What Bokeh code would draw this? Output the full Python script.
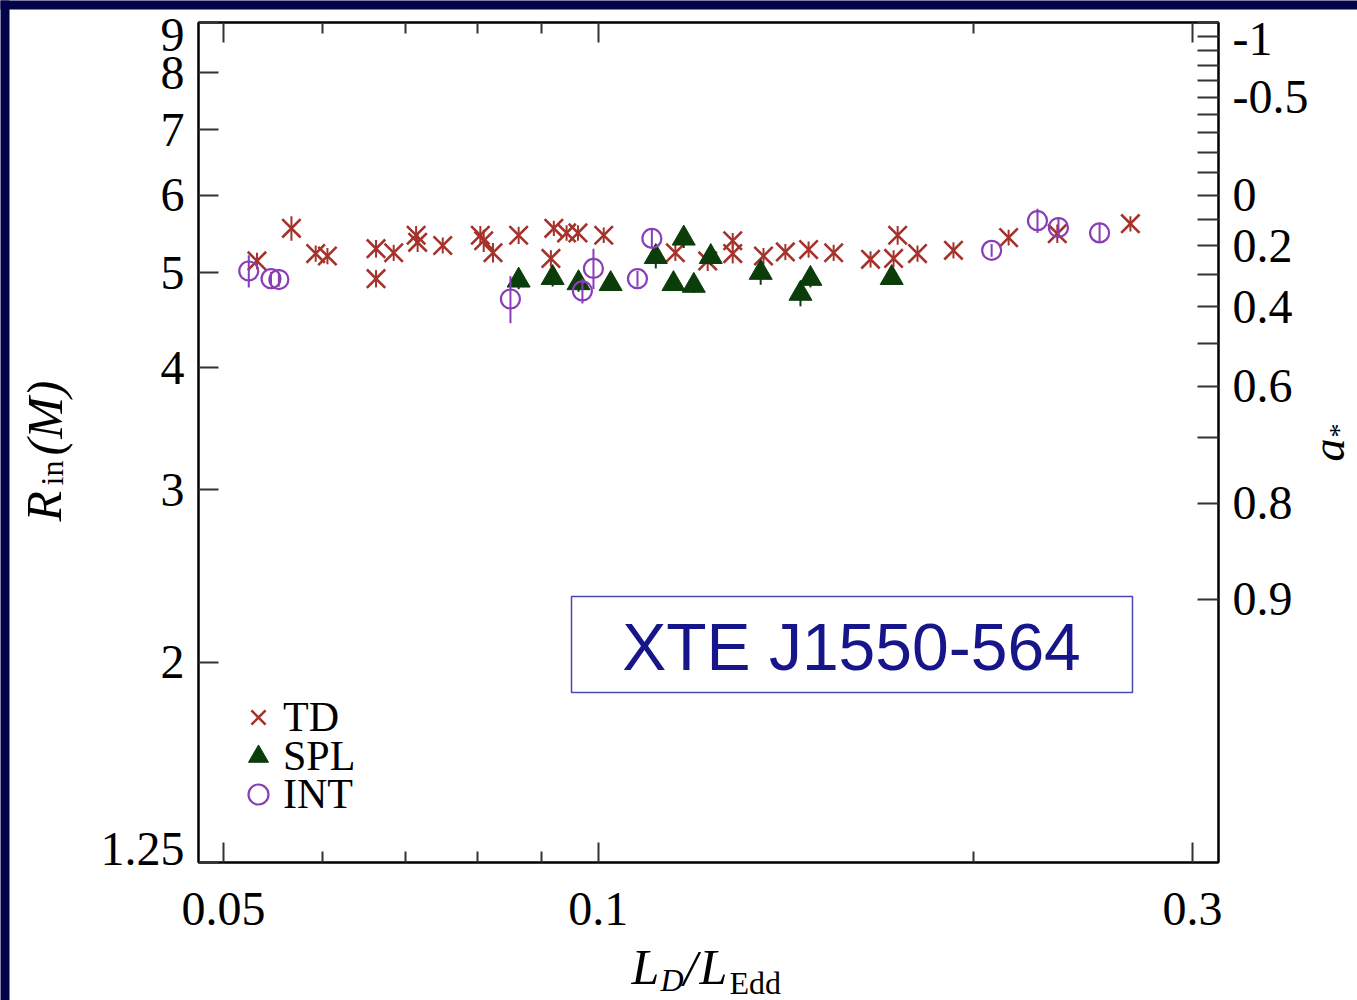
import numpy as np
from bokeh.plotting import figure
from bokeh.models import (LogAxis, FixedTicker, Range1d, Label, BoxAnnotation,
                          Legend, LegendItem)
from bokeh.core.properties import value
from bokeh.embed import file_html
from bokeh.resources import INLINE

# ---------------- data ----------------
td_x = [0.0532, 0.0567, 0.0593, 0.0606, 0.0663, 0.0663, 0.0685, 0.0714, 0.0716,
        0.0750, 0.0804, 0.0809, 0.0823, 0.0863, 0.0916, 0.0921, 0.0943, 0.0963,
        0.1010, 0.1153, 0.1224, 0.1282, 0.1282, 0.1357, 0.1413, 0.1475, 0.1545,
        0.1654, 0.1726, 0.1739, 0.1804, 0.1928, 0.2135, 0.2336, 0.2674]
td_y = [5.14, 5.55, 5.23, 5.20, 5.29, 4.93, 5.24, 5.46, 5.37, 5.33, 5.46, 5.39,
        5.24, 5.46, 5.17, 5.55, 5.49, 5.49, 5.46, 5.24, 5.14, 5.39, 5.23, 5.20,
        5.25, 5.28, 5.24, 5.16, 5.17, 5.46, 5.23, 5.27, 5.43, 5.48, 5.61]
td_err = [0.10, 0.16, 0.10, 0.10, 0.11, 0.10, 0.10, 0.12, 0.12, 0.10, 0.12, 0.14,
          0.12, 0.11, 0.10, 0.10, 0.10, 0.10, 0.10, 0.10, 0.12, 0.10, 0.12, 0.10,
          0.10, 0.10, 0.10, 0.10, 0.10, 0.12, 0.10, 0.10, 0.10, 0.12, 0.10]

spl_x = [0.0863, 0.0919, 0.0964, 0.1023, 0.1112, 0.1149, 0.1171, 0.1193, 0.1231,
         0.1350, 0.1453, 0.1480, 0.1720]
spl_y = [4.91, 4.94, 4.88, 4.87, 5.19, 4.87, 5.42, 4.85, 5.19, 5.00, 4.76, 4.93, 4.94]
spl_err = [0.10, 0.10, 0.10, 0.08, 0.14, 0.08, 0.12, 0.08, 0.10, 0.14, 0.14, 0.10, 0.08]

int_x = [0.0524, 0.0546, 0.0554, 0.0850, 0.0971, 0.0991, 0.1075, 0.1104, 0.2069,
         0.2252, 0.2341, 0.2526]
int_y = [5.02, 4.93, 4.92, 4.70, 4.79, 5.05, 4.93, 5.42, 5.27, 5.65, 5.56, 5.49]
int_err = [0.19, 0.08, 0.08, 0.26, 0.14, 0.24, 0.09, 0.12, 0.08, 0.16, 0.13, 0.12]

x_major = [0.05, 0.1, 0.3]
x_minor = [0.06, 0.07, 0.08, 0.09, 0.2]
x_labels = ["0.05", "0.1", "0.3"]
r_ticks = [1.25, 2, 3, 4, 5, 6, 7, 8, 9]
r_labels = ["1.25", "2", "3", "4", "5", "6", "7", "8", "9"]
spin_ticks = [-1.0, -0.9, -0.8, -0.7, -0.6, -0.5, -0.4, -0.3, -0.2, -0.1,
              0.0, 0.1, 0.2, 0.3, 0.4, 0.5, 0.6, 0.7, 0.8, 0.9]
spin_labels = {-1.0: "-1", -0.5: "-0.5", 0.0: "0", 0.2: "0.2", 0.4: "0.4",
               0.6: "0.6", 0.8: "0.8", 0.9: "0.9"}

TD_COLOR = "#a5322b"
SPL_COLOR = "#0b3d0b"
INT_COLOR = "#8a3db8"
SLIDE_BG = "#03034a"

X_RANGE = (0.04775, 0.3147)
Y_RANGE = (1.2495, 9.004)

W, H = 1357, 1000
# pixel geometry of the frame (for placing annotation text)
FL, FR, FT, FB = 198.0, 1218.0, 22.0, 862.0
LX0, LX1 = np.log10(X_RANGE[0]), np.log10(X_RANGE[1])
LY0, LY1 = np.log10(Y_RANGE[0]), np.log10(Y_RANGE[1])


def px2x(px):
    return float(10 ** (LX0 + (px - FL) / (FR - FL) * (LX1 - LX0)))


def py2y(py):
    return float(10 ** (LY1 - (py - FT) / (FB - FT) * (LY1 - LY0)))


def r_isco(a):
    z1 = 1 + (1 - a * a) ** (1 / 3) * ((1 + a) ** (1 / 3) + (1 - a) ** (1 / 3))
    z2 = np.sqrt(3 * a * a + z1 * z1)
    return float(3 + z2 - np.sign(a) * np.sqrt((3 - z1) * (3 + z1 + 2 * z2)))


p = figure(width=W, height=H, x_axis_type="log", y_axis_type="log",
           x_range=Range1d(*X_RANGE), y_range=Range1d(*Y_RANGE),
           output_backend="svg", toolbar_location=None,
           min_border_left=int(FL), min_border_right=int(W - FR),
           min_border_top=int(FT), min_border_bottom=int(H - FB))
p.grid.visible = False
p.outline_line_color = "black"
p.outline_line_width = 2
p.background_fill_color = "white"
p.border_fill_color = "white"

SERIF = "Liberation Serif"
TICK_FS = "48px"


def style_axis(ax, label_size=TICK_FS, standoff=14):
    ax.axis_line_color = "black"
    ax.axis_line_width = 2
    ax.major_tick_in = 20
    ax.major_tick_out = 0
    ax.minor_tick_in = 11
    ax.minor_tick_out = 0
    ax.major_tick_line_color = "#333333"
    ax.minor_tick_line_color = "#333333"
    ax.major_tick_line_width = 2
    ax.minor_tick_line_width = 2
    ax.major_label_text_font = SERIF
    ax.major_label_text_font_size = label_size
    ax.major_label_text_color = "black"
    ax.major_label_standoff = standoff


# bottom axis
xb = p.xaxis[0]
xb.ticker = FixedTicker(ticks=x_major, minor_ticks=x_minor)
xb.major_label_overrides = {v: t for v, t in zip(x_major, x_labels)}
style_axis(xb, standoff=30)

# top axis (ticks only)
xt = LogAxis(ticker=FixedTicker(ticks=x_major, minor_ticks=x_minor))
style_axis(xt, label_size="0px", standoff=0)
xt.major_label_overrides = {v: "" for v in x_major}
p.add_layout(xt, "above")

# left axis (edge labels drawn separately: in the original they sit inside the range)
EDGE_R = (1.25, 9)
yl = p.yaxis[0]
yl.ticker = FixedTicker(ticks=r_ticks, minor_ticks=[])
yl.major_label_overrides = {float(v): ("" if v in EDGE_R else t)
                            for v, t in zip(r_ticks, r_labels)}
style_axis(yl, standoff=14)

# right axis: black-hole spin a* at the ISCO radius
spin_r = [r_isco(a) for a in spin_ticks]
yr = LogAxis(ticker=FixedTicker(ticks=spin_r, minor_ticks=[]))
yr.major_label_overrides = {r: ("" if a == -1.0 else spin_labels.get(a, ""))
                            for a, r in zip(spin_ticks, spin_r)}
style_axis(yr, standoff=14)
yr.major_tick_in = 21
p.add_layout(yr, "right")

# ---------------- slide frame (dark strips at top and left) ----------------
p.quad(left=[px2x(0), px2x(0)], right=[px2x(W), px2x(9)],
       top=[py2y(0), py2y(0)], bottom=[py2y(9), py2y(H)],
       fill_color=SLIDE_BG, line_color=None, level="overlay")

# ---------------- data glyphs ----------------
def errbars(xs, ys, es, color):
    p.segment(x0=xs, y0=[y - e for y, e in zip(ys, es)], x1=xs,
              y1=[y + e for y, e in zip(ys, es)], line_color=color, line_width=2)


errbars(td_x, td_y, td_err, TD_COLOR)
td_r = p.scatter(td_x, td_y, marker="x", size=26, line_color=TD_COLOR, line_width=2.6)
errbars(spl_x, spl_y, spl_err, SPL_COLOR)
spl_r = p.scatter(spl_x, spl_y, marker="triangle", size=23, fill_color=SPL_COLOR,
                  line_color=SPL_COLOR)
errbars(int_x, int_y, int_err, INT_COLOR)
int_r = p.scatter(int_x, int_y, marker="circle", size=19, fill_color=None,
                  line_color=INT_COLOR, line_width=2.2)

for name, rend, yoff in [("TD", td_r, 120), ("SPL", spl_r, 81), ("INT", int_r, 43)]:
    p.add_layout(Legend(items=[LegendItem(label=name, renderers=[rend])],
                        location=(35, yoff), orientation="vertical",
                        glyph_width=50, glyph_height=50, label_standoff=0,
                        padding=0, margin=0,
                        label_text_font=SERIF, label_text_font_size="42px",
                        label_text_color="black",
                        background_fill_alpha=0, border_line_alpha=0))

# ---------------- source name box ----------------
p.add_layout(BoxAnnotation(left=px2x(571), right=px2x(1132),
                           bottom=py2y(692), top=py2y(596),
                           fill_alpha=0, line_color="#4848b0", line_alpha=1.0,
                           line_width=1.5))
p.add_layout(Label(x=px2x(851), y=py2y(646), text="XTE J1550-564",
                   text_align="center", text_baseline="middle",
                   text_font="Liberation Sans", text_font_size="66px",
                   text_color="#16168a"))


def txt(text, px, py, size, style="normal", angle=0.0, align="left",
        baseline="middle"):
    p.text(x=[px2x(px)], y=[py2y(py)], text=[text], text_font=value(SERIF),
           text_font_size=f"{size}px", text_font_style=style, angle=angle,
           text_align=align, text_baseline=baseline, text_color="black",
           level="overlay")


# edge tick labels
txt("9", 184, 34, 48, align="right")
txt("1.25", 184, 848, 48, align="right")
txt("-1", 1232, 38, 48, align="left")

# x-axis title  L_D / L_Edd
txt("L", 631, 966, 50, "italic")
txt("D", 660, 979, 32, "italic")
txt("/", 683, 967, 50, "italic")
txt("L", 699, 966, 50, "italic")
txt("Edd", 729, 982, 32)

# y-axis title  R_in (M)
RA = np.pi / 2
txt("R", 43, 521, 50, "italic", angle=RA)
txt("in", 51, 485, 32, angle=RA)
txt("(M)", 44, 455, 50, "italic", angle=RA)

# right title  a_*
txt("a", 1328, 461, 46, "italic", angle=RA)
txt("*", 1338, 437, 28, angle=RA)

open("out.html", "w").write(file_html(p, INLINE))
